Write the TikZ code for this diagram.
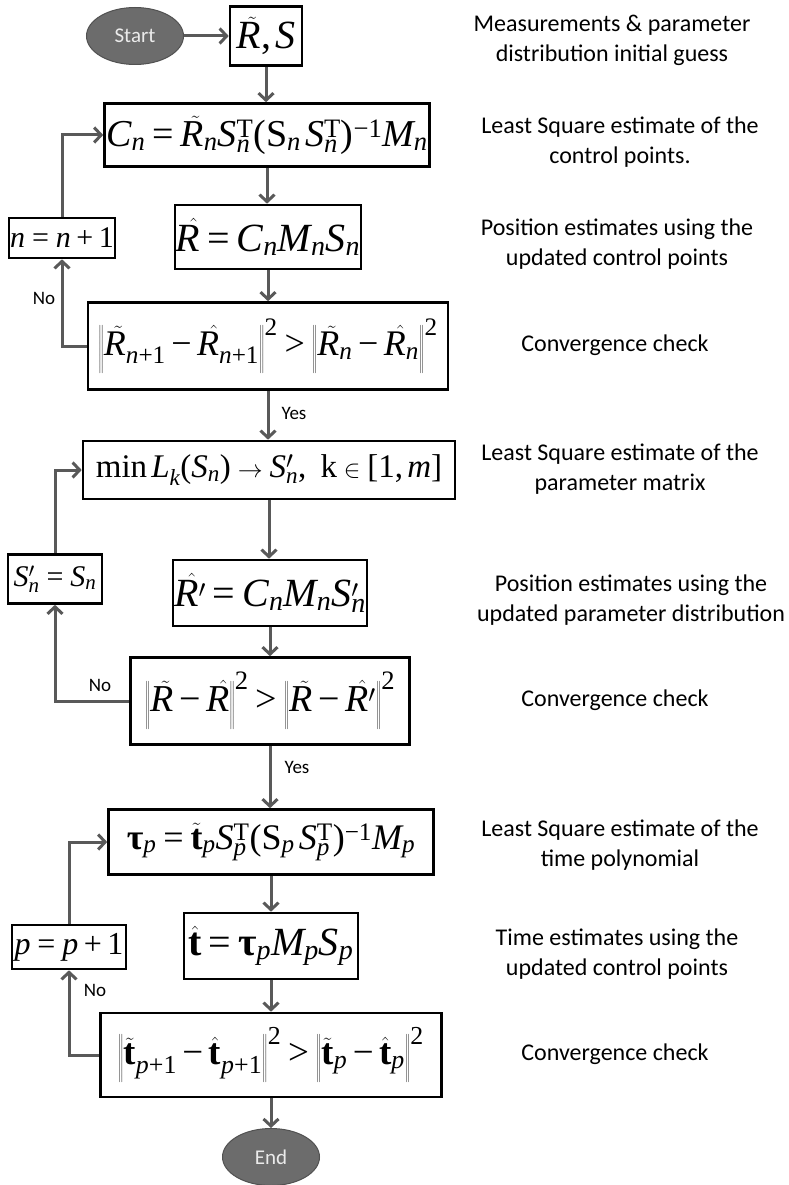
\documentclass[tikz,border=0pt]{standalone}
\usepackage[no-math]{fontspec}
\usepackage{xcolor}
\newfontfamily\calib{Carlito}
\newfontfamily\tnr[NFSSFamily=tnr]{Liberation Serif}
% Times-like letters in math
\DeclareSymbolFont{operators}{TU}{tnr}{m}{n}
\DeclareSymbolFont{tnrit}{TU}{tnr}{m}{it}
\DeclareSymbolFont{cmacc}{OT1}{cmr}{m}{n}
\DeclareMathAlphabet{\mathbf}{TU}{tnr}{\bfdefault}{n}
\DeclareMathAccent{\hatacc}{\mathalpha}{cmacc}{"5E}
\DeclareMathAccent{\tilacc}{\mathalpha}{cmacc}{"7E}
\makeatletter
\count@=`A \loop \Umathcode\count@=7 \symtnrit \count@ \advance\count@ 1 \ifnum\count@<`[ \repeat
\count@=`a \loop \Umathcode\count@=7 \symtnrit \count@ \advance\count@ 1 \ifnum\count@<`\{ \repeat
\makeatother
\Umathcode`-=2 \symoperators "2212
\Umathcode`>=3 \symoperators `>
\Umathcode`,=6 \symoperators `,
\usetikzlibrary{arrows.meta,shapes}
\definecolor{linegray}{RGB}{89,89,89}
\definecolor{ovalgray}{RGB}{108,108,108}
\newcommand{\fs}[1]{\fontsize{#1}{#1}\selectfont}
\newcommand{\btau}{\mbox{\tnr\bfseries τ}}
\newcommand{\Rt}{\skew{5}{\tilacc}{R}}
\newcommand{\Rh}{\skew{8}{\hatacc}{R}}
\newcommand{\nrm}[1]{\left\|\vphantom{\rule[-0.5em]{0pt}{1.15em}}#1\right\|}

\begin{document}
\begin{tikzpicture}[x=1pt,y=-1pt,
  eq/.style={draw,line width=2.6pt,inner sep=1pt},
  oval/.style={ellipse,fill=ovalgray,draw=ovalgray!75!black,line width=1pt,
    minimum width=97pt,minimum height=57pt,text=white!92!black,font=\calib\fs{21}},
  note/.style={align=center,font=\calib\fontsize{24}{30}\selectfont},
  lbl/.style={font=\calib\fs{19}},
  flow/.style={draw=linegray,line width=3pt,-{Straight Barb[length=7pt,width=15pt]}}]
\useasboundingbox (0,0) rectangle (788,1185);

% flow boxes
\node[oval] (start) at (135,36) {Start};
\node[eq,minimum width=72pt,minimum height=59pt,font=\fs{40}] (rs) at (266,36) {$\Rt,S$};
\node[eq,minimum width=325pt,minimum height=63pt,font=\fs{38}] (cn) at (267,135)
  {$C_n=\Rt_nS_n^{\mathrm{T}}(\mathrm{S}_n\,S_n^{\mathrm{T}})^{-1}M_n$};
\node[eq,minimum width=183pt,minimum height=64pt,font=\fs{40}] (rh) at (268,237) {$\Rh=C_nM_nS_n$};
\node[eq,minimum width=106pt,minimum height=40pt,font=\fs{30}] (nbox) at (62,238) {$n=n+1$};
\node[eq,minimum width=360pt,minimum height=87pt,font=\fs{36}] (cv1) at (268,346)
  {$\nrm{\Rt_{n+1}-\Rh_{n+1}}^2>\nrm{\Rt_n-\Rh_n}^2$};

\node[eq,minimum width=372pt,minimum height=58pt,font=\fs{33}] (minl) at (269,470)
  {$\min L_k(S_n)\to S_n',\ \mathrm{k}\in[1,m]$};
\node[eq,minimum width=94pt,minimum height=49pt,font=\fs{30}] (sbox) at (55,579) {$S_n'=S_n$};
\node[eq,minimum width=193pt,minimum height=66pt,font=\fs{40}] (rp) at (270,593) {$\Rh'=C_nM_nS_n'$};
\node[eq,minimum width=279pt,minimum height=87pt,font=\fs{38}] (cv2) at (270,701)
  {$\nrm{\Rt-\Rh}^2>\nrm{\Rt-\Rh'}^2$};

\node[eq,minimum width=325pt,minimum height=65pt,font=\fs{36}] (tau) at (271,842)
  {$\btau_p=\tilacc{\mathbf{t}}_pS_p^{\mathrm{T}}(\mathrm{S}_p\,S_p^{\mathrm{T}})^{-1}M_p$};
\node[eq,minimum width=174pt,minimum height=66pt,font=\fs{40}] (th) at (271,946) {$\hatacc{\mathbf{t}}=\btau_pM_pS_p$};
\node[eq,minimum width=114pt,minimum height=44pt,font=\fs{32}] (pbox) at (69,947) {$p=p+1$};
\node[eq,minimum width=341pt,minimum height=84pt,font=\fs{37}] (cv3) at (271,1055)
  {$\nrm{\tilacc{\mathbf{t}}_{p+1}-\hatacc{\mathbf{t}}_{p+1}}^2>\nrm{\tilacc{\mathbf{t}}_p-\hatacc{\mathbf{t}}_p}^2$};
\node[oval] (end) at (271,1157) {End};

% branch labels
\node[lbl] (no1) at (44,298) {No};
\node[lbl] (yes1) at (294,413) {Yes};
\node[lbl] (no2) at (100,685) {No};
\node[lbl] (yes2) at (297,767) {Yes};
\node[lbl] (no3) at (95,990) {No};

% notes
\node[note] (t1) at (612,40) {Measurements \& parameter\\distribution initial guess};
\node[note] (t2) at (620,142) {Least Square estimate of the\\control points.};
\node[note] (t3) at (617,244) {Position estimates using the\\updated control points};
\node[note] (t4) at (615,345) {Convergence check};
\node[note] (t5) at (620,469) {Least Square estimate of the\\parameter matrix};
\node[note] (t6) at (631,600) {Position estimates using the\\updated parameter distribution};
\node[note] (t7) at (615,700) {Convergence check};
\node[note] (t8) at (620,845) {Least Square estimate of the\\time polynomial};
\node[note] (t9) at (617,954) {Time estimates using the\\updated control points};
\node[note] (t10) at (615,1054) {Convergence check};

% connectors
\draw[flow] (start) -- (rs);
\draw[flow] (rs) -- (rs |- cn.north);
\draw[flow] (cn) -- (cn |- rh.north);
\draw[flow] (rh) -- (rh |- cv1.north);
\draw[flow] (cv1.west) -| (nbox);
\draw[flow] (nbox) |- (cn);
\draw[flow] (cv1) -- (cv1 |- minl.north);
\draw[flow] (minl) -- (minl |- rp.north);
\draw[flow] (rp) -- (rp |- cv2.north);
\draw[flow] (cv2.west) -| (sbox);
\draw[flow] (sbox) |- (minl);
\draw[flow] (cv2) -- (cv2 |- tau.north);
\draw[flow] (tau) -- (tau |- th.north);
\draw[flow] (th) -- (th |- cv3.north);
\draw[flow] (cv3.west) -| (pbox);
\draw[flow] (pbox) |- (tau);
\draw[flow] (cv3) -- (end);
\end{tikzpicture}
\end{document}
